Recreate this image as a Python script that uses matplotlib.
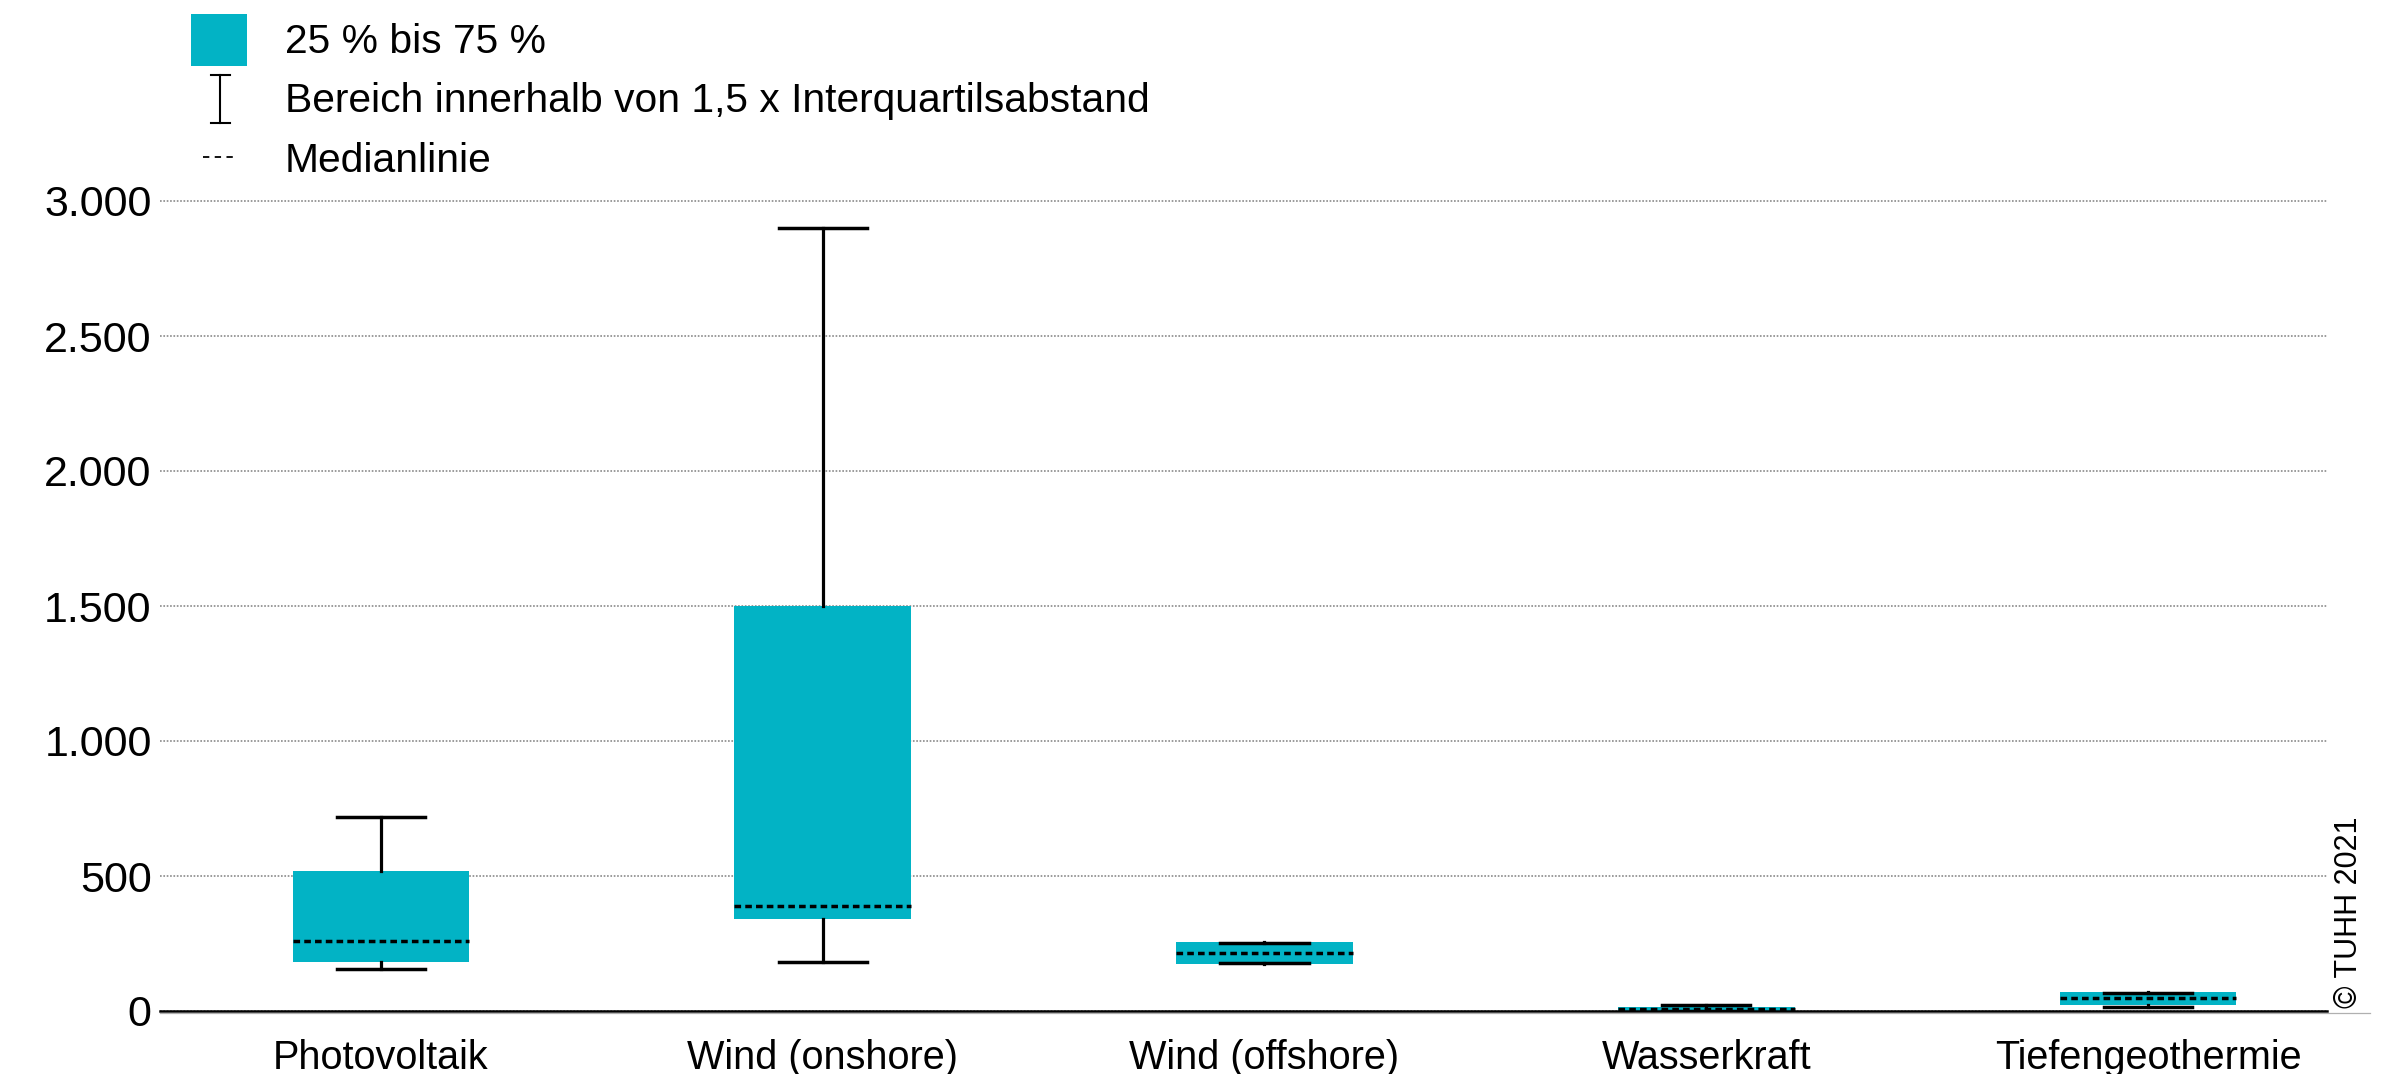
import matplotlib
matplotlib.use("Agg")
import matplotlib.pyplot as plt
from matplotlib.patches import Rectangle
from matplotlib.lines import Line2D

# Kategorien und Kennwerte der Boxplots
categories = ["Photovoltaik", "Wind (onshore)", "Wind (offshore)", "Wasserkraft", "Tiefengeothermie"]
whisker_low = [155, 180, 179, 0, 16]
quartile_1 = [180, 340, 174, 0, 21]
median = [260, 390, 216, 6, 47]
quartile_3 = [520, 1500, 257, 16, 69]
whisker_high = [720, 2900, 253, 22, 65]

y_ticks = [0, 500, 1000, 1500, 2000, 2500, 3000]
y_tick_labels = ["0", "500", "1.000", "1.500", "2.000", "2.500", "3.000"]

legend_labels = ["25 % bis 75 %", "Bereich innerhalb von 1,5 x Interquartilsabstand", "Medianlinie"]
credit = "© TUHH 2021"

TEAL = "#02B3C5"
FONT = ["Liberation Sans", "DejaVu Sans"]
plt.rcParams["font.family"] = FONT

W, H = 2401, 1074
fig = plt.figure(figsize=(W / 100, H / 100), dpi=100)

def fx(px):
    return px / W

def fy(py):
    return 1 - py / H

ax = fig.add_axes([fx(160), fy(1011), fx(2327) - fx(160), fy(201) - fy(1011)])

stats = []
for i, name in enumerate(categories):
    stats.append(dict(label=name, whislo=whisker_low[i], q1=quartile_1[i], med=median[i],
                      q3=quartile_3[i], whishi=whisker_high[i], fliers=[]))

dash = (0, (1.9, 1.2))
ax.bxp(stats, positions=range(len(categories)), widths=0.4, capwidths=0.2,
       patch_artist=True, showfliers=False,
       boxprops=dict(facecolor=TEAL, edgecolor="none", linewidth=0),
       whiskerprops=dict(color="black", linewidth=2.3),
       capprops=dict(color="black", linewidth=2.5),
       medianprops=dict(color="black", linewidth=2.5, linestyle=dash))

ax.set_xlim(-0.5, 4.405)
ax.set_ylim(0, 3000)
ax.set_yticks(y_ticks)
ax.set_yticklabels(y_tick_labels)
ax.set_xticks(range(len(categories)))
ax.set_xticklabels(categories)
ax.tick_params(axis="y", length=0, pad=6, labelsize=31)
ax.tick_params(axis="x", length=0, pad=20, labelsize=28.5)

ax.yaxis.grid(True, linestyle=(0, (1.1, 1.1)), color="#808080", linewidth=1.1, clip_on=False)
ax.set_axisbelow(True)
for side in ("top", "right", "left"):
    ax.spines[side].set_visible(False)
ax.spines["bottom"].set_color("black")
ax.spines["bottom"].set_linewidth(1.8)
ax.spines["bottom"].set_zorder(5)

# feine graue Grundlinie unter der Achse
fig.add_artist(Line2D([fx(160), fx(2370)], [fy(1012.5), fy(1012.5)], color="#b0b0b0", linewidth=0.9))

# Legende
fig.add_artist(Rectangle((fx(191), fy(66)), fx(247) - fx(191), fy(14) - fy(66),
                         facecolor=TEAL, edgecolor="none", transform=fig.transFigure))
fig.add_artist(Line2D([fx(220), fx(220)], [fy(75), fy(123)], color="black", linewidth=1.5))
fig.add_artist(Line2D([fx(211), fx(230)], [fy(75), fy(75)], color="black", linewidth=1.5))
fig.add_artist(Line2D([fx(211), fx(230)], [fy(123), fy(123)], color="black", linewidth=1.5))
fig.add_artist(Line2D([fx(203), fx(233)], [fy(157), fy(157)], color="black", linewidth=1.3,
                      linestyle=(0, (3.5, 3.0))))

for label, base in zip(legend_labels, [53, 112, 172]):
    fig.text(fx(285), fy(base), label, fontsize=29.3, ha="left", va="baseline")

fig.text(fx(2349), fy(1008), credit, rotation=90, fontsize=22, ha="center", va="bottom")

fig.savefig("out.png", dpi=100)
